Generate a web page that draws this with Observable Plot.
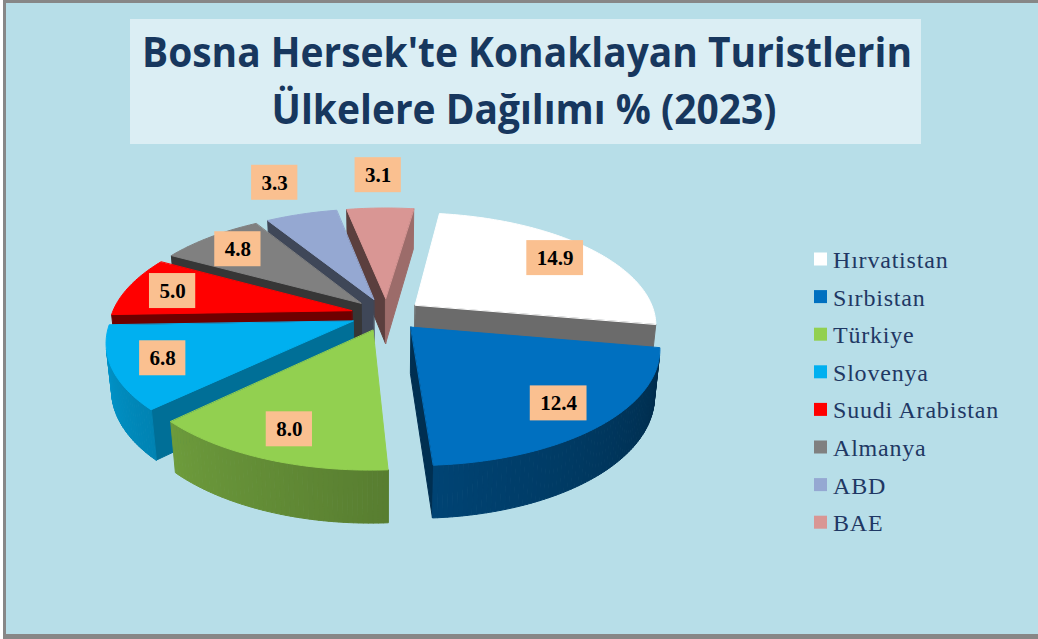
<!DOCTYPE html>
<html>
<head>
<meta charset="utf-8">
<script src="https://cdn.jsdelivr.net/npm/d3@7"></script>
<script src="https://cdn.jsdelivr.net/npm/@observablehq/plot@0.6"></script>
<style>
  html, body { margin: 0; padding: 0; background: #ffffff; }
  body { width: 1038px; height: 639px; position: relative; overflow: hidden; }
  #frame { position: absolute; left: 3px; top: 0; width: 1040px; height: 639px; box-sizing: border-box;
           background: #b7dee8; border-left: 3px solid #878787; border-top: 3px solid #878787; border-bottom: 5px solid #878787; }
  #deco, #chart { position: absolute; left: 0; top: 0; }
  #chart svg { display: block; }
</style>
</head>
<body>
<div id="frame"></div>
<svg id="deco" width="1038" height="639"></svg>
<div id="chart"></div>
<script>
// ---------------- data ----------------
const titleLines = ["Bosna Hersek'te Konaklayan Turistlerin", "Ülkelere Dağılımı % (2023)"];
const countries = ["Hırvatistan", "Sırbistan", "Türkiye", "Slovenya", "Suudi Arabistan", "Almanya", "ABD", "BAE"];
const shares = [14.9, 12.4, 8.0, 6.8, 5.0, 4.8, 3.3, 3.1];
const palette = ["#ffffff", "#0070c0", "#92d050", "#00b0f0", "#ff0000", "#808080", "#95a8d2", "#d99694"];

// ---------------- layout / 3-D view ----------------
const W = 1038, H = 639;
const K = 240;            // pixels per pie radius
const CX = 386, CY = 314; // pie centre in pixels
const PHI = 27.4 * Math.PI / 180, SP = Math.sin(PHI), CP = Math.cos(PHI);
const DIST = 5.3, EXPL = 0.15, THICK = 0.22, START = 8;
const rad = d => d * Math.PI / 180;
const cam = [0, DIST * SP, DIST * CP];
function proj(X, Y, Z) {
  const d = Z * CP + Y * SP, v = Z * SP - Y * CP, s = DIST / (DIST - d);
  return [X * s, -v * s];
}
function shade(hex, f) {
  const c = d3.rgb(hex);
  return d3.rgb(c.r * f, c.g * f, c.b * f).formatHex();
}
const wallShade = t => Math.max(0.3, Math.min(0.95, 0.38 + 0.0029 * (((t % 360) + 360) % 360 - 100)));

const total = d3.sum(shares);
let cum = 0;
const slices = shares.map((v, i) => {
  const a1 = START + 360 * cum / total; cum += v;
  const a2 = START + 360 * cum / total;
  const b = (a1 + a2) / 2;
  return {i, v, a1, a2, b, ox: EXPL * Math.sin(rad(b)), oz: -EXPL * Math.cos(rad(b)),
          depth: -(EXPL + 0.5) * Math.cos(rad(b))};
});

const verts = [];
let pid = 0;
function addPoly(pts, color) {
  const id = pid++;
  for (const [X, Y, Z] of pts) { const [x, y] = proj(X, Y, Z); verts.push({x, y, id, color}); }
}

for (const s of [...slices].sort((a, b) => a.depth - b.depth)) {
  const col = palette[s.i];
  const rim = (deg, Y) => [s.ox + Math.sin(rad(deg)), Y, s.oz - Math.cos(rad(deg))];
  const apex = Y => [s.ox, Y, s.oz];
  const toCam = [cam[0] - s.ox, cam[1], cam[2] - s.oz];
  // radial cut faces
  for (const [a, sign] of [[s.a1, -1], [s.a2, 1]]) {
    const n = [sign * Math.cos(rad(a)), 0, sign * Math.sin(rad(a))];
    if (n[0] * toCam[0] + n[2] * toCam[2] > 0)
      addPoly([apex(0), rim(a, 0), rim(a, -THICK), apex(-THICK)], shade(col, 0.42 + 0.3 * Math.max(0, n[0])));
  }
  // outer curved wall, front-facing strips only
  const steps = Math.max(2, Math.ceil(s.a2 - s.a1));
  for (let k = 0; k < steps; k++) {
    const t0 = s.a1 + k * (s.a2 - s.a1) / steps, t1 = s.a1 + (k + 1) * (s.a2 - s.a1) / steps, tm = (t0 + t1) / 2;
    const p = rim(tm, 0);
    const dot = Math.sin(rad(tm)) * (cam[0] - p[0]) - Math.cos(rad(tm)) * (cam[2] - p[2]);
    if (dot > 0) addPoly([rim(t0, 0), rim(t1, 0), rim(t1, -THICK), rim(t0, -THICK)], shade(col, wallShade(tm)));
  }
  // top face
  const top = [apex(0)];
  for (let k = 0; k <= steps; k++) top.push(rim(s.a1 + k * (s.a2 - s.a1) / steps, 0));
  addPoly(top, col);
}

// data labels
const charW = ch => (ch === "." ? 0.25 : 0.5);
const labels = slices.map(s => {
  const r = s.v / total < 0.07 ? 1.45 : 0.8;
  const q = EXPL + r;
  const [x, y] = proj(q * Math.sin(rad(s.b)), 0, -q * Math.cos(rad(s.b)));
  const text = s.v.toFixed(1);
  const w = d3.sum([...text], charW) * 21 + 20;
  return {x, y, text, w};
});

const chart = Plot.plot({
  width: W, height: H, margin: 0,
  x: {domain: [-CX / K, (W - CX) / K], axis: null},
  y: {domain: [-(H - CY) / K, CY / K], axis: null},
  color: {type: "identity"},
  style: {background: "transparent", overflow: "visible"},
  marks: [
    Plot.line(verts, {x: "x", y: "y", z: "id", fill: "color", stroke: "color", strokeWidth: 1, curve: "linear-closed"}),
    Plot.rect(labels, {x1: d => d.x - d.w / 2 / K, x2: d => d.x + d.w / 2 / K, y1: d => d.y - 17.5 / K, y2: d => d.y + 17.5 / K, fill: "#fac090"}),
    Plot.text(labels, {x: "x", y: "y", text: "text", fontSize: 21, fontWeight: "bold", fontFamily: "Liberation Serif, 'Times New Roman', serif", fill: "#000000"})
  ]
});
document.getElementById("chart").append(chart);

// ---------------- title and legend ----------------
const deco = d3.select("#deco");
deco.append("rect").attr("x", 130).attr("y", 19).attr("width", 791).attr("height", 125).attr("fill", "#dbeef4");
const tl = deco.selectAll("text.title").data(titleLines).join("text")
  .attr("class", "title")
  .attr("x", (d, i) => i ? 524 : 527).attr("y", (d, i) => i ? 124 : 67)
  .attr("text-anchor", "middle")
  .attr("font-family", "'Open Sans', 'Noto Sans', sans-serif").attr("font-weight", 700).attr("font-size", 42)
  .attr("fill", "#17375e")
  .text(d => d);
const nodes = tl.nodes();
const ratio = 770 / nodes[0].getComputedTextLength();
nodes.forEach(n => { n.setAttribute("textLength", n.getComputedTextLength() * ratio); n.setAttribute("lengthAdjust", "spacingAndGlyphs"); });

const lg = deco.append("g");
countries.forEach((c, i) => {
  const cy = 259 + i * 37.6;
  lg.append("rect").attr("x", 814).attr("y", cy - 6.5).attr("width", 13).attr("height", 13).attr("fill", palette[i]);
  lg.append("text").attr("x", 833).attr("y", cy + 9)
    .style("font-family", "'Liberation Serif', 'Times New Roman', serif").style("font-size", "24px")
    .style("letter-spacing", "0.8px").attr("fill", "#1f3864").text(c);
});
</script>
</body>
</html>
